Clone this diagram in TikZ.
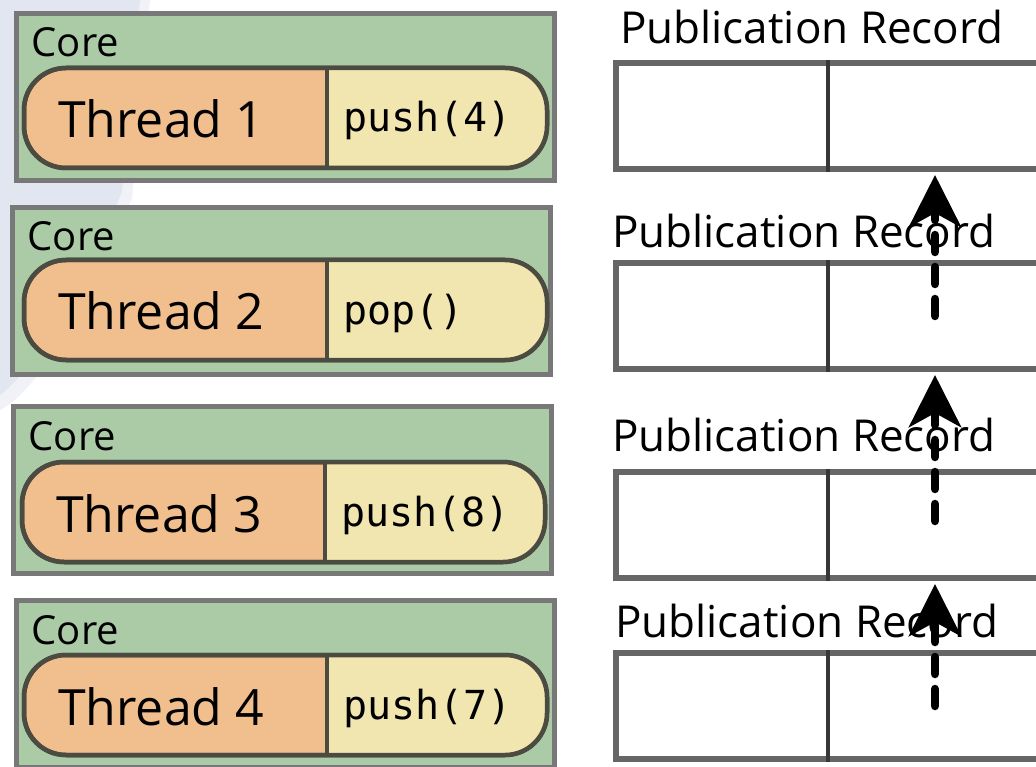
\documentclass[tikz,border=0pt]{standalone}
\usepackage{fontspec}
\setmainfont{Open Sans}
\setmonofont{DejaVu Sans Mono}
\usetikzlibrary{arrows.meta}
\definecolor{blob}{RGB}{226,230,240}
\definecolor{corefill}{RGB}{170,203,166}
\definecolor{coredraw}{RGB}{120,120,120}
\definecolor{thrfill}{RGB}{241,190,142}
\definecolor{opfill}{RGB}{242,230,176}
\definecolor{pilldraw}{RGB}{75,75,65}
\definecolor{recdraw}{RGB}{102,102,102}
\definecolor{divdraw}{RGB}{55,55,55}
\tikzset{
  corebox/.style={draw=coredraw, fill=corefill, line width=5pt, minimum width=538pt, minimum height=167pt, inner sep=0pt, outer sep=0pt, anchor=north west},
  pill/.style={draw=pilldraw, fill=thrfill, line width=4.5pt, rounded corners=42pt, minimum width=523pt, minimum height=100pt, inner sep=0pt, outer sep=0pt, anchor=north west},
  pillline/.style={draw=pilldraw, line width=4.5pt, rounded corners=42pt},
  divline/.style={draw=pilldraw, line width=4pt},
  corelabel/.style={anchor=base west, inner sep=0pt, font=\fontsize{40}{40}\selectfont},
  thrlabel/.style={anchor=base west, inner sep=0pt, font=\fontsize{50}{50}\selectfont},
  oplabel/.style={anchor=base west, inner sep=0pt, font=\fontsize{40}{40}\selectfont\ttfamily},
  reclabel/.style={anchor=base west, inner sep=0pt, font=\fontsize{44}{44}\selectfont},
  recbox/.style={draw=recdraw, line width=6pt, fill=white, minimum width=430pt, minimum height=106pt, inner sep=0pt, outer sep=0pt, anchor=north west},
  recdiv/.style={draw=divdraw, line width=4pt},
  flow/.style={line width=8.5pt, dash pattern=on 17pt off 15pt, line cap=round, -{Stealth[length=52pt, width=52pt, inset=14pt]}}
}
\begin{document}
\begin{tikzpicture}[x=1pt,y=-1pt]
\useasboundingbox (0,0) rectangle (1036,767);
\clip (0,0) rectangle (1036,767);
\fill[blob, opacity=0.5] (0,0) -- (150,0) -- (132,198) .. controls (90,300) and (40,390) .. (0,410) -- cycle;
\fill[blob] (0,0) -- (140,0) -- (122,192) .. controls (80,290) and (30,375) .. (0,395) -- cycle;

\foreach \i/\cx/\cy/\px/\py/\thr/\op in {
  1/16.5/13.5/24/68/Thread 1/push(4),
  2/12.5/207.5/24/260/Thread 2/pop(),
  3/13.5/406.5/22/462/Thread 3/push(8),
  4/16.5/600.5/24/655/Thread 4/push(7)}{
  \node[corebox] (c\i) at (\cx,\cy) {};
  \node[corelabel] (cl\i) at ([shift={(15,43.5)}]c\i.north west) {Core};
  \node[pill] (t\i) at (\px,\py) {};
  \begin{scope}
    \clip[rounded corners=42pt] (t\i.north west) rectangle (t\i.south east);
    \fill[opfill] ([xshift=303pt]t\i.north west) rectangle ([xshift=10pt]t\i.south east);
  \end{scope}
  \draw[pillline] (t\i.north west) rectangle (t\i.south east);
  \draw[divline] ([xshift=303pt]t\i.north west) -- ([xshift=303pt]t\i.south west);
  \node[thrlabel] (tl\i) at ([shift={(34,70)}]t\i.north west) {\thr};
  \node[oplabel] (op\i) at ([shift={(319,64)}]t\i.north west) {\op};
}

\foreach \i/\ry/\lx/\ly in {1/63/620/44, 2/263/612/248, 3/472/612/451, 4/653/615/637}{
  \node[reclabel] (l\i) at (\lx,\ly) {Publication Record};
  \node[recbox] (r\i) at (616,\ry) {};
  \draw[recdiv] ([xshift=212pt,yshift=3pt]r\i.north west) -- ([xshift=212pt,yshift=-3pt]r\i.south west);
}

\coordinate (s1) at (935,316);
\coordinate (s2) at (935,521);
\coordinate (s3) at (935,706);
\draw[flow] (s1) -- ([yshift=-6pt]s1 |- r1.south);
\draw[flow] (s2) -- ([yshift=-6pt]s2 |- r2.south);
\draw[flow] (s3) -- ([yshift=-6pt]s3 |- r3.south);
\end{tikzpicture}
\end{document}
